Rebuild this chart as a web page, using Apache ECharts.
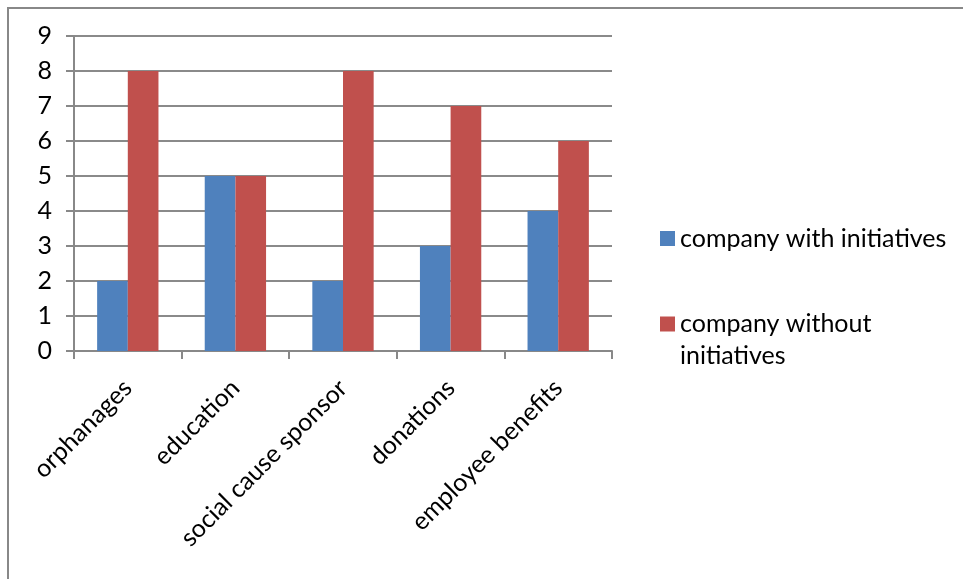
<!DOCTYPE html>
<html>
<head>
<meta charset="utf-8">
<script src="https://cdn.jsdelivr.net/npm/echarts@6/dist/echarts.min.js"></script>
<style>
html,body{margin:0;padding:0;background:#fff;}
#chart{width:963px;height:579px;}
</style>
</head>
<body>
<div id="chart"></div>
<script>
const categories = ['orphanages', 'education', 'social cause sponsor', 'donations', 'employee benefits'];
const withInitiatives = [2, 5, 2, 3, 4];
const withoutInitiatives = [8, 5, 8, 7, 6];
const seriesNames = ['company with initiatives', 'company without initiatives'];
const yTicks = [0, 1, 2, 3, 4, 5, 6, 7, 8, 9];

const FONT = 'Lato';
const FS = 25;
const chart = echarts.init(document.getElementById('chart'), null, {renderer: 'canvas'});
chart.setOption({
  animation: false,
  backgroundColor: '#fff',
  textStyle: {fontFamily: FONT},
  graphic: [
    {type: 'line', shape: {x1: 7, y1: 8, x2: 963, y2: 8}, style: {stroke: '#888', lineWidth: 2}},
    {type: 'line', shape: {x1: 8, y1: 7, x2: 8, y2: 579}, style: {stroke: '#888', lineWidth: 2}}
  ],
  grid: {left: 74, right: 351, top: 36, bottom: 228, containLabel: false},
  legend: [
    {
      data: [seriesNames[0]],
      orient: 'vertical', left: 655, top: 221,
      itemWidth: 15, itemHeight: 15, itemGap: 0,
      icon: 'rect',
      textStyle: {fontFamily: FONT, fontSize: FS, color: '#000'}
    },
    {
      data: [seriesNames[1]],
      orient: 'vertical', left: 655, top: 271,
      itemWidth: 15, itemHeight: 15,
      icon: 'rect',
      formatter: function () { return ' \ncompany without\ninitiatives'; },
      textStyle: {fontFamily: FONT, fontSize: FS, color: '#000', lineHeight: 32}
    }
  ],
  xAxis: {
    type: 'category',
    data: categories,
    axisLine: {lineStyle: {color: '#888', width: 2}},
    axisTick: {show: true, length: 8, alignWithLabel: false, lineStyle: {color: '#888', width: 2}},
    axisLabel: {rotate: 45, fontFamily: FONT, fontSize: FS, color: '#000', margin: 33, interval: 0}
  },
  yAxis: {
    type: 'value',
    min: 0, max: 9, interval: 1,
    axisLine: {show: true, lineStyle: {color: '#888', width: 2}},
    axisTick: {show: true, length: 8, lineStyle: {color: '#888', width: 2}},
    axisLabel: {fontFamily: FONT, fontSize: FS, color: '#000', margin: 22,
      formatter: function (v) { return yTicks.indexOf(v) >= 0 ? String(v) : ''; }},
    splitLine: {show: true, lineStyle: {color: '#8a8a8a', width: 2}}
  },
  series: [
    {name: seriesNames[0], type: 'bar', data: withInitiatives, barGap: '0%', barCategoryGap: '43%',
      itemStyle: {color: '#4F81BD'}},
    {name: seriesNames[1], type: 'bar', data: withoutInitiatives, barGap: '0%', barCategoryGap: '43%',
      itemStyle: {color: '#C0504D'}}
  ]
});
</script>
</body>
</html>
